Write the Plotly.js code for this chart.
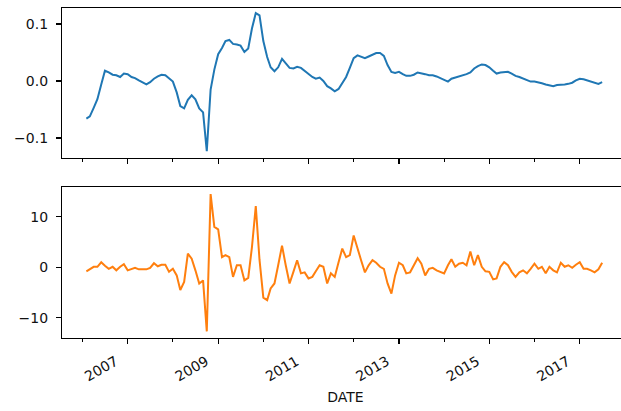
<!DOCTYPE html>
<html>
<head>
<meta charset="utf-8">
<script src="https://cdn.plot.ly/plotly-3.0.1.min.js"></script>
<style>
html,body{margin:0;padding:0;overflow:hidden;background:#fff;}
#chart{width:629px;height:411px;}
</style>
</head>
<body>
<div id="chart"></div>
<script>
// Monthly dates from 2006-02 to 2017-07 (138 months)
const startYear = 2006, startMonth = 2, nMonths = 138;
const dates = [];
for (let i = 0; i < nMonths; i++) {
  const m0 = startMonth - 1 + i;
  const y = startYear + Math.floor(m0 / 12);
  const m = (m0 % 12) + 1;
  dates.push(y + '-' + String(m).padStart(2, '0') + '-01');
}

// Top series (blue)
const pctChange = [
  -0.066,-0.062,-0.047,-0.032,-0.006,0.018,0.015,0.011,0.010,0.007,0.013,0.012,
  0.007,0.005,0.001,-0.003,-0.006,-0.002,0.004,0.008,0.011,0.010,0.005,-0.001,
  -0.020,-0.044,-0.048,-0.033,-0.025,-0.032,-0.048,-0.055,-0.123,-0.015,0.020,0.047,
  0.058,0.070,0.072,0.065,0.064,0.062,0.051,0.057,0.092,0.119,0.115,0.070,
  0.042,0.024,0.017,0.024,0.039,0.031,0.023,0.022,0.025,0.023,0.018,0.012,
  0.007,0.004,0.006,0.000,-0.009,-0.013,-0.018,-0.014,-0.003,0.007,0.023,0.040,
  0.045,0.042,0.040,0.043,0.046,0.049,0.049,0.044,0.028,0.016,0.014,0.016,
  0.012,0.009,0.009,0.011,0.015,0.014,0.012,0.010,0.010,0.008,0.005,0.002,
  -0.001,0.004,0.006,0.008,0.009,0.012,0.015,0.022,0.026,0.029,0.028,0.024,
  0.018,0.013,0.015,0.016,0.016,0.013,0.009,0.007,0.004,0.001,-0.001,-0.001,
  -0.002,-0.004,-0.006,-0.008,-0.009,-0.007,-0.007,-0.006,-0.005,-0.003,0.001,0.004,
  0.003,0.001,0.000,-0.003,-0.005,-0.002
];

// Bottom series (orange)
const diffValues = [
  -0.8,-0.4,0.1,0.1,1.0,0.3,-0.3,0.1,-0.6,0.1,0.6,-0.6,
  -0.3,-0.1,-0.4,-0.4,-0.4,-0.1,0.8,0.2,0.5,0.5,-0.9,-0.3,
  -1.6,-4.5,-2.9,2.7,1.7,-0.6,-3.2,-2.6,-12.7,14.5,8.0,7.5,
  2.0,2.4,2.0,-1.9,0.4,0.4,-2.6,-2.1,4.0,12.1,1.5,-6.0,
  -6.5,-4.2,-3.2,0.4,4.3,0.4,-3.2,-0.9,1.4,-1.2,-1.0,-2.2,
  -1.9,-0.8,0.4,0.1,-3.2,-1.2,-1.9,1.0,3.7,2.0,2.4,6.3,
  4.0,1.4,-1.0,0.4,1.4,0.9,0.1,-0.3,-3.2,-5.2,-1.6,0.9,
  0.4,-1.2,-1.0,0.3,1.8,0.7,-1.6,-0.3,-0.1,-0.6,-0.9,-1.2,
  0.4,1.6,0.1,0.7,0.9,0.4,3.1,0.4,2.4,0.1,-0.8,-0.9,
  -2.4,-2.2,0.1,1.0,0.4,-0.9,-1.9,-1.0,-0.6,-1.2,-0.3,0.7,
  -0.3,0.1,-1.2,0.1,-0.6,-1.0,0.9,0.1,0.4,-0.1,0.5,1.0,
  -0.3,-0.3,-0.6,-1.0,-0.4,0.9
];

const topTickVals = [-0.1, 0.0, 0.1];
const topTickText = ['−0.1', '0.0', '0.1'];
const botTickVals = [-10, 0, 10];
const botTickText = ['−10', '0', '10'];

const font = {family: 'DejaVu Sans, sans-serif', size: 14, color: '#111'};
const xRange = ['2005-07-19', '2018-02-03'];

const xCommon = {
  type: 'date', range: xRange,
  showline: true, mirror: true, linecolor: '#000', linewidth: 1.1,
  showgrid: false, zeroline: false,
  ticks: 'outside', ticklen: 5, tickcolor: '#000', tickwidth: 1.1,
  tick0: '2007-01-01', dtick: 'M24', tickformat: '%Y',
  minor: {ticks: 'outside', ticklen: 3, tickcolor: '#000', dtick: 'M12', tick0: '2006-01-01', showgrid: false}
};
const yCommon = {
  showline: true, mirror: true, linecolor: '#000', linewidth: 1.1,
  showgrid: false, zeroline: false,
  ticks: 'outside', ticklen: 5, tickcolor: '#000', tickwidth: 1.1,
  tickmode: 'array', ticklabelstandoff: 5
};

const data = [
  {x: dates, y: pctChange, type: 'scatter', mode: 'lines', xaxis: 'x', yaxis: 'y',
   line: {color: '#1f77b4', width: 2}, showlegend: false},
  {x: dates, y: diffValues, type: 'scatter', mode: 'lines', xaxis: 'x2', yaxis: 'y2',
   line: {color: '#ff7f0e', width: 2}, showlegend: false}
];

const layout = {
  width: 629, height: 411,
  margin: {l: 62, r: 0, t: 8, b: 73},
  paper_bgcolor: '#fff', plot_bgcolor: '#fff',
  font: font,
  xaxis: Object.assign({}, xCommon, {domain: [0, 1], anchor: 'y', showticklabels: false}),
  yaxis: Object.assign({}, yCommon, {domain: [0.5455, 1], anchor: 'x', range: [-0.135, 0.128],
    tickvals: topTickVals, ticktext: topTickText}),
  xaxis2: Object.assign({}, xCommon, {domain: [0, 1], anchor: 'y2', tickangle: -30,
    ticklabelshift: -12, ticklabelstandoff: 4,
    title: {text: 'DATE', font: font, standoff: 8}}),
  yaxis2: Object.assign({}, yCommon, {domain: [0, 0.4576], anchor: 'x2', range: [-14.0, 15.9],
    tickvals: botTickVals, ticktext: botTickText})
};

Plotly.newPlot('chart', data, layout, {staticPlot: true, displayModeBar: false});
</script>
</body>
</html>
